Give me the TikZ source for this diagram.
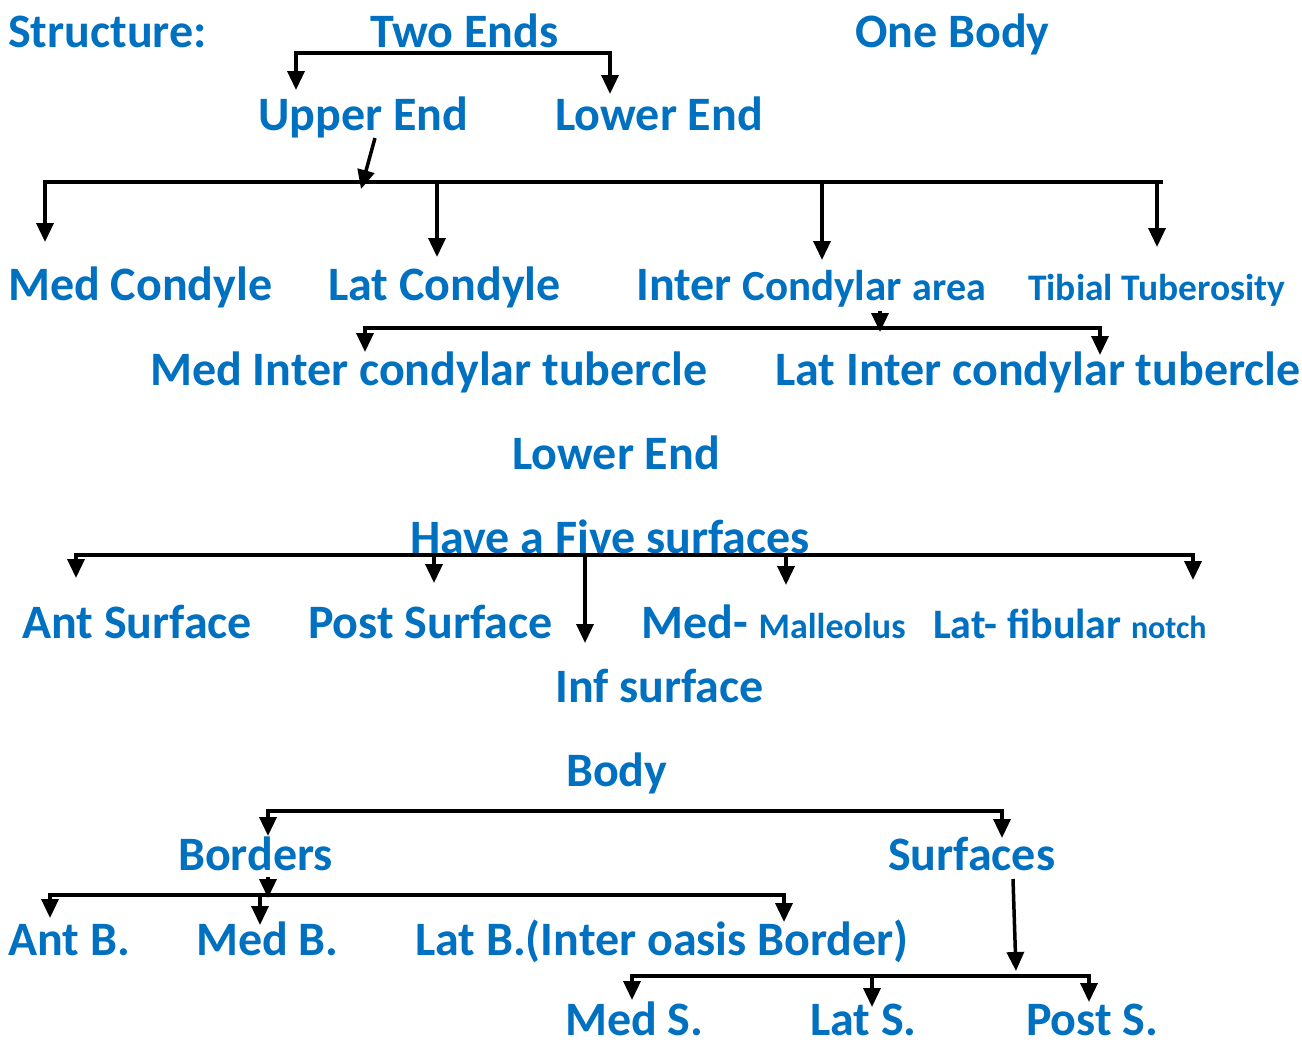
\documentclass[tikz,border=0pt]{standalone}
\usepackage{fontspec}
\setmainfont{Carlito}
\usetikzlibrary{arrows.meta}
\definecolor{tblue}{RGB}{0,112,192}
\newcommand{\fsz}[1]{\fontsize{#1}{#1}\selectfont}
\tikzset{
  lbl/.style={text=tblue, font=\bfseries\fsz{48}, inner sep=0pt, anchor=base west},
  tip/.tip={Triangle[width=17pt,length=19pt]},
  arr/.style={line width=3.5pt, line join=miter, -tip},
  arrb/.style={line width=3.5pt, line join=miter, tip-tip}
}
\begin{document}
\begin{tikzpicture}[x=1pt,y=-1pt]
\useasboundingbox[fill=white] (0,0) rectangle (1302,1042);

% ---- texts ----
\node[lbl] (structure) at (8,47) {Structure:};
\node[lbl] (twoends) at (370,47) {Two Ends};
\node[lbl] (onebody) at (855,47) {One Body};
\node[lbl] (upperend) at (258,130) {Upper End};
\node[lbl] (lowerend) at (555,130) {Lower End};
\node[lbl] (medcond) at (8,300) {Med Condyle};
\node[lbl] (latcond) at (328,300) {Lat Condyle};
\node[lbl] (intercond) at (636,300) {Inter {\fsz{43}Condylar} {\fsz{40}area}};
\node[lbl, font=\bfseries\fsz{37.5}] (tibtub) at (1028,300) {Tibial Tuberosity};
\node[lbl] (medict) at (150,385) {Med Inter condylar tubercle};
\node[lbl] (latict) at (775,385) {Lat Inter condylar tubercle};
\node[lbl] (lowerend2) at (512,469) {Lower End};
\node[lbl] (five) at (410,553) {Have a Five surfaces};
\node[lbl] (antsurf) at (22,638) {Ant Surface};
\node[lbl] (postsurf) at (308,638) {Post Surface};
\node[lbl] (medmal) at (641,638) {Med- {\fsz{36}Malleolus}};
\node[lbl, font=\bfseries\fsz{42}] (latfib) at (933,638) {Lat- fibular {\fsz{32}notch}};
\node[lbl] (infsurf) at (555,702) {Inf surface};
\node[lbl] (body) at (566,786) {Body};
\node[lbl] (borders) at (178,870) {Borders};
\node[lbl] (surfaces) at (888,870) {Surfaces};
\node[lbl] (antb) at (8,955) {Ant B.};
\node[lbl] (medb) at (196,955) {Med B.};
\node[lbl] (latb) at (415,955) {Lat B.(Inter oasis Border)};
\node[lbl] (meds) at (565,1035) {Med S.};
\node[lbl] (lats) at (810,1035) {Lat S.};
\node[lbl] (posts) at (1026,1035) {Post S.};

% ---- Two Ends bracket ----
\coordinate (teL) at (296,53);
\coordinate (teR) at (610,53);
\coordinate (teLt) at (296,90);
\coordinate (teRt) at (610,94);
\draw[arrb] (teLt) -- (teL) -- (teR) -- (teRt);

% ---- Upper End ----
\coordinate (ueS) at (375,138);
\coordinate (ueT) at (361,189);
\draw[arr] (ueS) -- (ueT);
\coordinate (b1L) at (45,182);
\coordinate (b1R) at (1163,182);
\coordinate (b1Lt) at (45,242);
\draw[arr] (b1R) -- (b1L) -- (b1Lt);
\coordinate (b1a) at (437,182); \coordinate (b1at) at (437,257);
\coordinate (b1b) at (822,182); \coordinate (b1bt) at (822,260);
\coordinate (b1c) at (1157,182); \coordinate (b1ct) at (1157,247);
\draw[arr] (b1a) -- (b1at);
\draw[arr] (b1b) -- (b1bt);
\draw[arr] (b1c) -- (b1ct);

% ---- Inter condylar ----
\coordinate (icS) at (880,311);
\coordinate (icT) at (880,332);
\draw[arr] (icS) -- (icT);
\coordinate (b2L) at (365,328); \coordinate (b2R) at (1100,328);
\coordinate (b2Lt) at (365,352); \coordinate (b2Rt) at (1100,355);
\draw[arrb] (b2Lt) -- (b2L) -- (b2R) -- (b2Rt);

% ---- Five surfaces ----
\coordinate (b3L) at (76,555); \coordinate (b3R) at (1193,555);
\coordinate (b3Lt) at (76,578); \coordinate (b3Rt) at (1193,580);
\draw[arrb] (b3Lt) -- (b3L) -- (b3R) -- (b3Rt);
\coordinate (b3a) at (434,555); \coordinate (b3at) at (434,583);
\coordinate (b3b) at (585,555); \coordinate (b3bt) at (585,643);
\coordinate (b3c) at (786,555); \coordinate (b3ct) at (786,585);
\draw[arr] (b3a) -- (b3at);
\draw[arr] (b3b) -- (b3bt);
\draw[arr] (b3c) -- (b3ct);

% ---- Body ----
\coordinate (b4L) at (268,811); \coordinate (b4R) at (1002,811);
\coordinate (b4Lt) at (268,836); \coordinate (b4Rt) at (1002,838);
\draw[arrb] (b4Lt) -- (b4L) -- (b4R) -- (b4Rt);

% ---- Borders ----
\coordinate (boS) at (268,877);
\coordinate (boT) at (268,898);
\draw[arr] (boS) -- (boT);
\coordinate (b5L) at (50,895); \coordinate (b5R) at (784,895);
\coordinate (b5Lt) at (50,918); \coordinate (b5Rt) at (784,922);
\draw[arrb] (b5Lt) -- (b5L) -- (b5R) -- (b5Rt);
\coordinate (b5a) at (260,895); \coordinate (b5at) at (260,925);
\draw[arr] (b5a) -- (b5at);

% ---- Surfaces ----
\coordinate (suS) at (1013,879);
\coordinate (suT) at (1016,971);
\draw[arr] (suS) -- (suT);
\coordinate (b6L) at (632,976); \coordinate (b6R) at (1089,976);
\coordinate (b6Lt) at (632,1000); \coordinate (b6Rt) at (1089,1002);
\draw[arrb] (b6Lt) -- (b6L) -- (b6R) -- (b6Rt);
\coordinate (b6a) at (872,976); \coordinate (b6at) at (872,1007);
\draw[arr] (b6a) -- (b6at);
\end{tikzpicture}
\end{document}
